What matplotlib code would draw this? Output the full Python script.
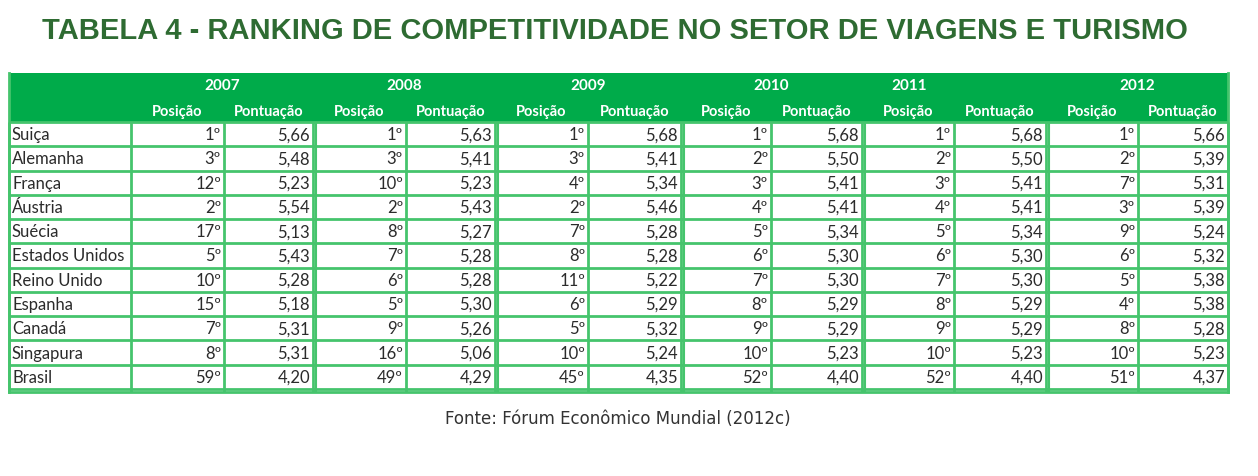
import matplotlib.pyplot as plt
from matplotlib.patches import Rectangle

# ---- dados da tabela -------------------------------------------------------
TITLE = "TABELA 4 - RANKING DE COMPETITIVIDADE NO SETOR DE VIAGENS E TURISMO"
SOURCE = "Fonte: Fórum Econômico Mundial (2012c)"

countries = ["Suiça", "Alemanha", "França", "Áustria", "Suécia", "Estados Unidos",
             "Reino Unido", "Espanha", "Canadá", "Singapura", "Brasil"]
years = ["2007", "2008", "2009", "2010", "2011", "2012"]
sub_headers = ["Posição", "Pontuação"]

pos_2007 = [1, 3, 12, 2, 17, 5, 10, 15, 7, 8, 59]
pts_2007 = [5.66, 5.48, 5.23, 5.54, 5.13, 5.43, 5.28, 5.18, 5.31, 5.31, 4.20]
pos_2008 = [1, 3, 10, 2, 8, 7, 6, 5, 9, 16, 49]
pts_2008 = [5.63, 5.41, 5.23, 5.43, 5.27, 5.28, 5.28, 5.30, 5.26, 5.06, 4.29]
pos_2009 = [1, 3, 4, 2, 7, 8, 11, 6, 5, 10, 45]
pts_2009 = [5.68, 5.41, 5.34, 5.46, 5.28, 5.28, 5.22, 5.29, 5.32, 5.24, 4.35]
pos_2010 = [1, 2, 3, 4, 5, 6, 7, 8, 9, 10, 52]
pts_2010 = [5.68, 5.50, 5.41, 5.41, 5.34, 5.30, 5.30, 5.29, 5.29, 5.23, 4.40]
pos_2011 = [1, 2, 3, 4, 5, 6, 7, 8, 9, 10, 52]
pts_2011 = [5.68, 5.50, 5.41, 5.41, 5.34, 5.30, 5.30, 5.29, 5.29, 5.23, 4.40]
pos_2012 = [1, 2, 7, 3, 9, 6, 5, 4, 8, 10, 51]
pts_2012 = [5.66, 5.39, 5.31, 5.39, 5.24, 5.32, 5.38, 5.38, 5.28, 5.23, 4.37]

positions = [pos_2007, pos_2008, pos_2009, pos_2010, pos_2011, pos_2012]
scores = [pts_2007, pts_2008, pts_2009, pts_2010, pts_2011, pts_2012]

# ---- layout (pixels) -------------------------------------------------------
COL_EDGES = [9, 131, 224, 313, 406, 495, 588, 681, 771, 862, 954, 1046, 1138, 1228]
HEAD_TOP = 74
HEAD_BOT = 123
BODY_BOT = 390
ROW_H = (BODY_BOT - HEAD_BOT) / len(countries)

GREEN_HEAD = "#00ab4a"
GREEN_LINE = "#45c46c"
GREEN_TITLE = "#2e6b32"
TEXT = "#2b2b2b"
FONT = ["Lato", "DejaVu Sans"]


def fmt_pos(p):
    return f"{p}º"


def fmt_pts(v):
    return f"{v:.2f}".replace(".", ",")


fig = plt.figure(figsize=(12.58, 4.77), dpi=100)
ax = fig.add_axes([0, 0, 1, 1])
ax.set_xlim(0, 1258)
ax.set_ylim(477, 0)
ax.axis("off")

ax.text(615, 31, TITLE, ha="center", va="center", fontsize=21,
        fontweight="bold", color=GREEN_TITLE, family=["Liberation Sans", "DejaVu Sans"])

# header band
ax.add_patch(Rectangle((COL_EDGES[0], HEAD_TOP), COL_EDGES[-1] - COL_EDGES[0],
                       HEAD_BOT - HEAD_TOP, facecolor=GREEN_HEAD, edgecolor="none"))

for i, year in enumerate(years):
    x0 = COL_EDGES[1 + 2 * i]
    x2 = COL_EDGES[3 + 2 * i]
    xc = (x0 + x2) / 2
    if year == "2011":  # no original o ano fica sobre a coluna Posição
        xc = (x0 + COL_EDGES[2 + 2 * i]) / 2 + 1
    ax.text(xc, 86, year, ha="center", va="center", fontsize=11,
            fontweight="bold", color="white", family=FONT)
    for j, sh in enumerate(sub_headers):
        a = COL_EDGES[1 + 2 * i + j]
        b = COL_EDGES[2 + 2 * i + j]
        ax.text((a + b) / 2, 112, sh, ha="center", va="center", fontsize=10.5,
                fontweight="bold", color="white", family=FONT)

# body text
for r, name in enumerate(countries):
    yc = HEAD_BOT + (r + 0.5) * ROW_H
    ax.text(COL_EDGES[0] + 3, yc, name, ha="left", va="center",
            fontsize=12, color=TEXT, family=FONT)
    for i in range(len(years)):
        xa = COL_EDGES[2 + 2 * i] - 3
        xb = COL_EDGES[3 + 2 * i] - 3
        ax.text(xa, yc, fmt_pos(positions[i][r]), ha="right", va="center",
                fontsize=12, color=TEXT, family=FONT)
        ax.text(xb, yc, fmt_pts(scores[i][r]), ha="right", va="center",
                fontsize=12, color=TEXT, family=FONT)

# grid lines
LW = 2.0
for r in range(len(countries) + 1):
    y = HEAD_BOT + r * ROW_H
    ax.plot([COL_EDGES[0], COL_EDGES[-1]], [y, y], color=GREEN_LINE, lw=LW,
            solid_capstyle="butt")
ax.plot([COL_EDGES[0], COL_EDGES[-1]], [BODY_BOT + 3, BODY_BOT + 3],
        color=GREEN_LINE, lw=LW)
for k, x in enumerate(COL_EDGES):
    ax.plot([x, x], [HEAD_BOT, BODY_BOT + 3], color=GREEN_LINE, lw=LW,
            solid_capstyle="butt")
    if k in (3, 5, 7, 9, 11):
        ax.plot([x + 3, x + 3], [HEAD_BOT, BODY_BOT + 3], color=GREEN_LINE,
                lw=1.5, solid_capstyle="butt")
ax.plot([COL_EDGES[0], COL_EDGES[0]], [HEAD_TOP, BODY_BOT + 3], color=GREEN_LINE, lw=LW)
ax.plot([COL_EDGES[-1], COL_EDGES[-1]], [HEAD_TOP, BODY_BOT + 3], color=GREEN_LINE, lw=LW)

ax.text(618, 419, SOURCE, ha="center", va="center", fontsize=12,
        color="#333333", family=["DejaVu Sans"])

fig.savefig("out.png", dpi=100, facecolor="white")
